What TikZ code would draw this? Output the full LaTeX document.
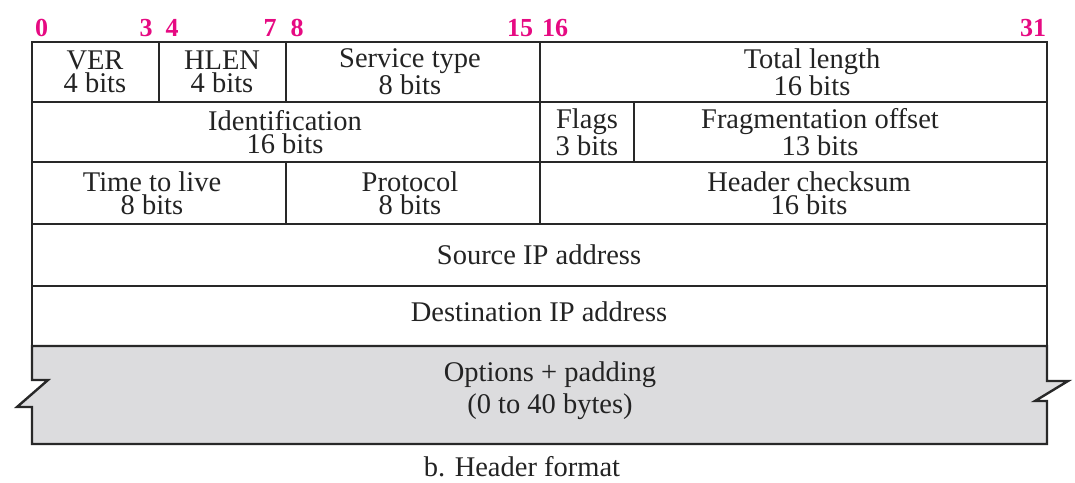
\documentclass[tikz,border=0pt]{standalone}
\usepackage{fontspec}
\setmainfont{Liberation Serif}
\definecolor{pinknum}{RGB}{230,10,130}
\definecolor{edge}{RGB}{40,40,40}
\definecolor{optfill}{RGB}{220,220,222}
\definecolor{txt}{RGB}{35,35,35}
\begin{document}
\begin{tikzpicture}[x=1pt,y=-1pt,
  cell/.style={draw=edge,line width=2.4pt},
  lbl/.style={inner sep=0pt,align=center,text=txt,font=\fontsize{28.5}{23}\selectfont},
  bitnum/.style={inner sep=0pt,text=pinknum,font=\fontsize{26}{26}\selectfont\bfseries}]
\useasboundingbox (0,0) rectangle (1075,482);
% bit numbers
\node[bitnum] (b0) at (41.5,28) {0};
\node[bitnum] (b3) at (146,28) {3};
\node[bitnum] (b4) at (172,28) {4};
\node[bitnum] (b7) at (270,28) {7};
\node[bitnum] (b8) at (297,28) {8};
\node[bitnum] (b15) at (520,28) {15};
\node[bitnum] (b16) at (555,28) {16};
\node[bitnum] (b31) at (1033,28) {31};
% options box (gray with zigzags)
\draw[cell,fill=optfill,line join=miter]
  (32,346) -- (1047,346) -- (1047,381) -- (1068,381) -- (1035,401) -- (1047,401)
  -- (1047,444) -- (32,444) -- (32,407) -- (17,407) -- (48,380) -- (32,380) -- cycle;
% row 1
\draw[cell] (32,42) rectangle (159,102);
\draw[cell] (159,42) rectangle (286,102);
\draw[cell] (286,42) rectangle (540,102);
\draw[cell] (540,42) rectangle (1047,102);
% row 2
\draw[cell] (32,102) rectangle (540,162);
\draw[cell] (540,102) rectangle (634,162);
\draw[cell] (634,102) rectangle (1047,162);
% row 3
\draw[cell] (32,162) rectangle (286,224);
\draw[cell] (286,162) rectangle (540,224);
\draw[cell] (540,162) rectangle (1047,224);
% rows 4,5
\draw[cell] (32,224) rectangle (1047,286);
\draw[cell] (32,286) rectangle (1047,346);
% labels
\node[lbl] (ver) at (95,72) {VER\\4 bits};
\node[lbl] (hlen) at (222,72) {HLEN\\4 bits};
\node[lbl] (stype) at (410,72) {Service type\\8 bits};
\node[lbl] (tlen) at (812,72) {Total length\\16 bits};
\node[lbl] (ident) at (285,132) {Identification\\16 bits};
\node[lbl] (flags) at (587,132) {Flags\\3 bits};
\node[lbl] (frag) at (820,132) {Fragmentation offset\\13 bits};
\node[lbl] (ttl) at (152,193) {Time to live\\8 bits};
\node[lbl] (proto) at (410,193) {Protocol\\8 bits};
\node[lbl] (chk) at (809,193) {Header checksum\\16 bits};
\node[lbl] (src) at (539,255) {Source IP address};
\node[lbl] (dst) at (539,312) {Destination IP address};
\node[lbl,font=\fontsize{28.5}{32}\selectfont] (opt) at (550,391) {Options + padding\\(0 to 40 bytes)};
\node[lbl] (cap) at (522,467) {b. Header format};
\end{tikzpicture}
\end{document}
